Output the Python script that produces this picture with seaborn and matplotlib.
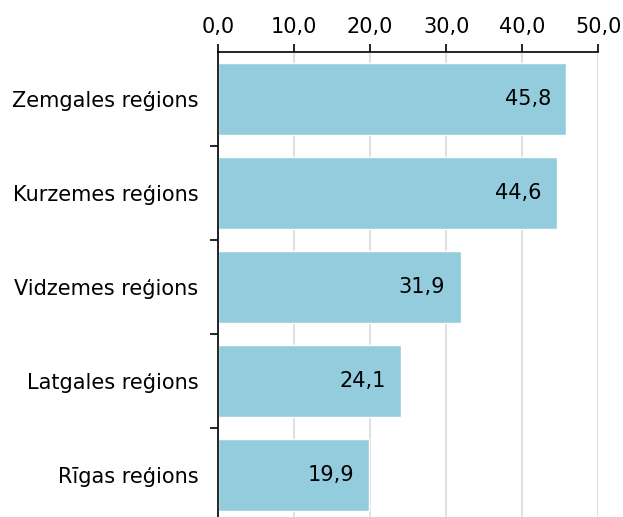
import matplotlib
matplotlib.use("Agg")
import matplotlib.pyplot as plt
import seaborn as sns
from matplotlib.ticker import FuncFormatter, FixedLocator

regions = ["Zemgales reģions", "Kurzemes reģions", "Vidzemes reģions",
           "Latgales reģions", "Rīgas reģions"]
values = [45.8, 44.6, 31.9, 24.1, 19.9]
xticks = [0, 10, 20, 30, 40, 50]

sns.set_style("white")
plt.rcParams['font.family'] = ['DejaVu Sans']
plt.rcParams['text.color'] = 'black'
plt.rcParams['xtick.color'] = 'black'
plt.rcParams['ytick.color'] = 'black'

fig = plt.figure(figsize=(6.23, 5.17), dpi=100)
ax = fig.add_axes([0.35, 0.0, 0.61, 0.899])

sns.barplot(x=values, y=regions, orient="h", color="#93CDDD", saturation=1,
            width=0.77, ax=ax, zorder=2)

# value labels inside the bar end
for i, v in enumerate(values):
    ax.annotate(f"{v:.1f}".replace(".", ","), xy=(v, i), xytext=(-11, 0),
                textcoords="offset points", ha="right", va="center",
                fontsize=15, color="black", zorder=3)

ax.set_xlim(0, 50)
ax.set_ylim(4.45, -0.5)
ax.xaxis.set_major_locator(FixedLocator(xticks))
ax.xaxis.set_major_formatter(FuncFormatter(lambda x, p: f"{x:.1f}".replace(".", ",")))
ax.xaxis.tick_top()
ax.tick_params(axis="x", direction="out", length=6, width=1.2, color="black",
               labelsize=15, pad=5, top=True, bottom=False)
ax.tick_params(axis="y", which="major", length=0, labelsize=15, pad=14)
ax.yaxis.set_minor_locator(FixedLocator([0.5, 1.5, 2.5, 3.5]))
ax.tick_params(axis="y", which="minor", direction="out", length=6, width=1.2,
               color="black", left=True)
ax.grid(axis="x", color="#dcdcdc", linewidth=1.3, zorder=0)
ax.set_axisbelow(True)

for s in ["right", "bottom"]:
    ax.spines[s].set_visible(False)
for s in ["top", "left"]:
    ax.spines[s].set_color("black")
    ax.spines[s].set_linewidth(1.2)

ax.set_xlabel("")
ax.set_ylabel("")

fig.savefig("out.png", dpi=100)
